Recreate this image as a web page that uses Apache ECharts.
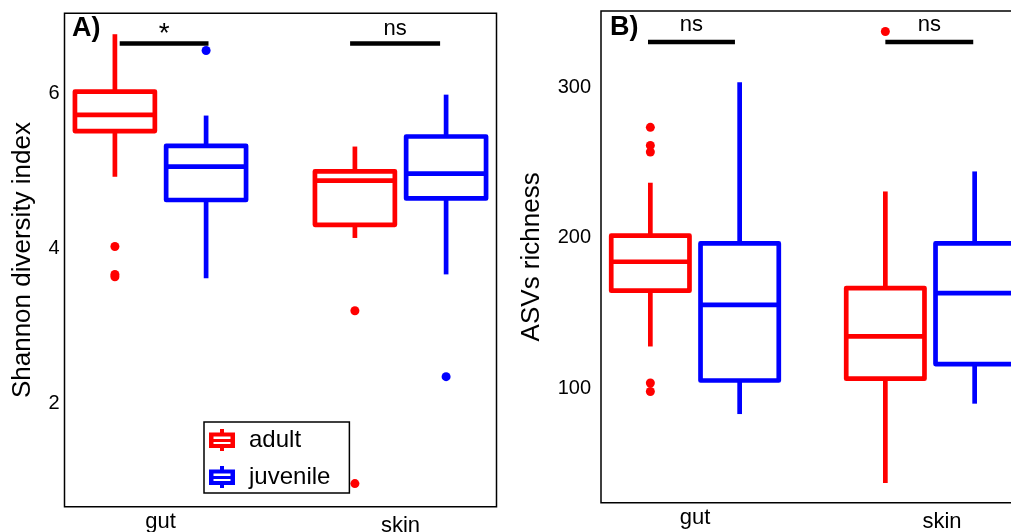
<!DOCTYPE html>
<html><head><meta charset="utf-8">
<script src="https://cdn.jsdelivr.net/npm/echarts@6/dist/echarts.min.js"></script>
<style>html,body{margin:0;padding:0;background:#fff}#c{width:1011px;height:532px}</style>
</head><body><div id="c"></div>
<script>
// ---------- data ----------
const categories = ['gut', 'skin'];
const groups = ['adult', 'juvenile'];
// box statistics: [categoryIndex, lowerWhisker, Q1, median, Q3, upperWhisker]
const shannonAdult = [[0, 4.92, 5.51, 5.72, 6.02, 6.76], [1, 4.13, 4.30, 4.87, 4.99, 5.31]];
const shannonJuvenile = [[0, 3.61, 4.62, 5.05, 5.32, 5.71], [1, 3.66, 4.64, 4.96, 5.44, 5.98]];
const shannonAdultOutliers = [[0, 4.02], [0, 3.66], [0, 3.63], [1, 3.19], [1, 0.96]];
const shannonJuvenileOutliers = [[0, 6.55], [1, 2.34]];
const richnessAdult = [[0, 127.6, 164.7, 183.9, 201.2, 236.4], [1, 36.9, 106.2, 134.3, 166.4, 230.6]];
const richnessJuvenile = [[0, 82.7, 105.0, 155.3, 196.1, 303.1], [1, 89.6, 115.9, 163.1, 196.1, 243.9]];
const richnessAdultOutliers = [[0, 273.2], [0, 261.2], [0, 256.8], [0, 103.3], [0, 97.7], [1, 336.9]];
const richnessJuvenileOutliers = [];
const shannonTicks = [2, 4, 6];
const richnessTicks = [100, 200, 300];
const shannonRange = [0.66, 7.03];
const richnessRange = [23.8, 350.5];
// significance brackets: [categoryIndex, startOffset, endOffset, y, label]
const shannonSig = [[0, -0.17, 0.2, 6.64, '*'], [1, -0.21, 0.165, 6.64, 'ns']];
const richnessSig = [[0, -0.2, 0.17, 329.9, 'ns'], [1, -0.19, 0.184, 329.9, 'ns']];

// ---------- styling ----------
const RED = '#FF0000', BLUE = '#0000FF';
const FONT = 'Liberation Sans, Arial, Helvetica, sans-serif';
const DODGE = 0.19, BOX_W = 0.333, LW = 4.7;

function boxRenderer(offset, color) {
  return function (params, api) {
    const x = api.value(0) + offset;
    const pLow = api.coord([x, api.value(1)]);
    const pQ1 = api.coord([x, api.value(2)]);
    const pMed = api.coord([x, api.value(3)]);
    const pQ3 = api.coord([x, api.value(4)]);
    const pHigh = api.coord([x, api.value(5)]);
    const hw = api.size([BOX_W, 0])[0] / 2;
    const st = { stroke: color, lineWidth: LW, fill: null, lineJoin: 'round' };
    return {
      type: 'group',
      children: [
        { type: 'line', shape: { x1: pHigh[0], y1: pHigh[1], x2: pQ3[0], y2: pQ3[1] }, style: st },
        { type: 'line', shape: { x1: pQ1[0], y1: pQ1[1], x2: pLow[0], y2: pLow[1] }, style: st },
        { type: 'rect', shape: { x: pQ3[0] - hw, y: pQ3[1], width: 2 * hw, height: pQ1[1] - pQ3[1] },
          style: Object.assign({}, st, { fill: '#fff' }) },
        { type: 'line', shape: { x1: pMed[0] - hw, y1: pMed[1], x2: pMed[0] + hw, y2: pMed[1] }, style: st }
      ]
    };
  };
}
function sigRenderer(labels, textDy, fontSizes) {
  return function (params, api) {
    const c = api.value(0);
    const a = api.coord([c + api.value(1), api.value(3)]);
    const b = api.coord([c + api.value(2), api.value(3)]);
    const i = params.dataIndex;
    return {
      type: 'group',
      children: [
        { type: 'line', shape: { x1: a[0], y1: a[1], x2: b[0], y2: b[1] },
          style: { stroke: '#000', lineWidth: 4.5 } },
        { type: 'text', x: (a[0] + b[0]) / 2, y: a[1] - textDy[i],
          style: { text: labels[i], fill: '#000', font: fontSizes[i] + 'px ' + FONT, align: 'center', verticalAlign: 'middle' } }
      ]
    };
  };
}
function shift(points, off) { return points.map(p => [p[0] + off, p[1]]); }

function xAxisFor(gridIndex, rich, margin) {
  return {
    gridIndex, type: 'value', min: -0.4, max: 1.4, interval: 0.2,
    axisLine: { show: false }, axisTick: { show: false }, splitLine: { show: false },
    axisLabel: {
      margin, color: '#000', fontSize: 22, fontFamily: FONT, rich,
      formatter: v => {
        const i = Math.round(v);
        if (Math.abs(v - i) > 1e-6 || !categories[i]) return '';
        return '{c' + i + '|' + categories[i] + '}';
      }
    }
  };
}
function yAxisFor(gridIndex, range, ticks, name, nameGap, margin) {
  return {
    gridIndex, type: 'value', min: range[0], max: range[1],
    name, nameLocation: 'middle', nameRotate: 90, nameGap,
    nameTextStyle: { fontSize: 26, fontFamily: FONT, color: '#000' },
    axisLine: { show: false }, axisTick: { show: false }, splitLine: { show: false },
    axisLabel: { customValues: ticks, margin, color: '#000', fontSize: 20, fontFamily: FONT }
  };
}

const legendIcon = 'path://M11 0H15V3.5H26V19H15V22H11V19H0V3.5H11Z' +
  'M4.5 7.5V10H21.5V7.5Z' + 'M4.5 13V15H21.5V13Z';

const chart = echarts.init(document.getElementById('c'), null, { renderer: 'canvas' });
chart.setOption({
  animation: false,
  backgroundColor: '#fff',
  title: [
    { text: 'A)', left: 72, top: 15, padding: 0, textStyle: { fontSize: 27, fontWeight: 'bold', fontFamily: FONT, color: '#000' } },
    { text: 'B)', left: 610, top: 14, padding: 0, textStyle: { fontSize: 27, fontWeight: 'bold', fontFamily: FONT, color: '#000' } }
  ],
  grid: [
    { left: 64.5, top: 13.3, width: 432, height: 493.5, show: true, borderColor: '#000', borderWidth: 1.5,
      backgroundColor: 'transparent', containLabel: false, outerBoundsMode: 'none' },
    { left: 601, top: 11, width: 423, height: 491.7, show: true, borderColor: '#000', borderWidth: 1.5,
      backgroundColor: 'transparent', containLabel: false, outerBoundsMode: 'none' }
  ],
  xAxis: [
    xAxisFor(0, { c0: { fontSize: 22, fontFamily: FONT, color: '#000' }, c1: { fontSize: 22, fontFamily: FONT, color: '#000', padding: [4, 0, 0, 0] } }, 4),
    xAxisFor(1, { c0: { fontSize: 22, fontFamily: FONT, color: '#000' }, c1: { fontSize: 22, fontFamily: FONT, color: '#000', padding: [4, 0, 0, 24] } }, 4)
  ],
  yAxis: [
    yAxisFor(0, shannonRange, shannonTicks, 'Shannon diversity index', 29, 5),
    yAxisFor(1, richnessRange, richnessTicks, 'ASVs richness', 56, 10)
  ],
  legend: {
    data: [{ name: groups[0], icon: legendIcon }, { name: groups[1], icon: legendIcon }],
    orient: 'vertical', left: 204, top: 422,
    itemWidth: 26, itemHeight: 22, itemGap: 13,
    padding: [6, 19, 4, 5],
    borderColor: '#000', borderWidth: 1.5, backgroundColor: '#fff',
    itemStyle: { borderWidth: 0 },
    textStyle: { fontSize: 24, fontFamily: FONT, color: '#000', padding: [0, 0, 0, 9] }
  },
  series: [
    { name: groups[0], type: 'custom', xAxisIndex: 0, yAxisIndex: 0, itemStyle: { color: RED },
      renderItem: boxRenderer(-DODGE, RED), encode: { x: 0, y: [1, 2, 3, 4, 5] }, data: shannonAdult },
    { name: groups[1], type: 'custom', xAxisIndex: 0, yAxisIndex: 0, itemStyle: { color: BLUE },
      renderItem: boxRenderer(DODGE, BLUE), encode: { x: 0, y: [1, 2, 3, 4, 5] }, data: shannonJuvenile },
    { name: 'adult outliers A', type: 'scatter', xAxisIndex: 0, yAxisIndex: 0, symbolSize: 9,
      itemStyle: { color: RED, opacity: 1 }, data: shift(shannonAdultOutliers, -DODGE) },
    { name: 'juvenile outliers A', type: 'scatter', xAxisIndex: 0, yAxisIndex: 0, symbolSize: 9,
      itemStyle: { color: BLUE, opacity: 1 }, data: shift(shannonJuvenileOutliers, DODGE) },
    { name: 'sig A', type: 'custom', xAxisIndex: 0, yAxisIndex: 0,
      renderItem: sigRenderer(shannonSig.map(s => s[4]), [9.5, 15], [28, 22]),
      encode: { x: 0, y: 3 }, data: shannonSig.map(s => s.slice(0, 4)) },

    { name: groups[0], type: 'custom', xAxisIndex: 1, yAxisIndex: 1, itemStyle: { color: RED },
      renderItem: boxRenderer(-DODGE, RED), encode: { x: 0, y: [1, 2, 3, 4, 5] }, data: richnessAdult },
    { name: groups[1], type: 'custom', xAxisIndex: 1, yAxisIndex: 1, itemStyle: { color: BLUE },
      renderItem: boxRenderer(DODGE, BLUE), encode: { x: 0, y: [1, 2, 3, 4, 5] }, data: richnessJuvenile },
    { name: 'adult outliers B', type: 'scatter', xAxisIndex: 1, yAxisIndex: 1, symbolSize: 9,
      itemStyle: { color: RED, opacity: 1 }, data: shift(richnessAdultOutliers, -DODGE) },
    { name: 'juvenile outliers B', type: 'scatter', xAxisIndex: 1, yAxisIndex: 1, symbolSize: 9,
      itemStyle: { color: BLUE, opacity: 1 }, data: shift(richnessJuvenileOutliers, DODGE) },
    { name: 'sig B', type: 'custom', xAxisIndex: 1, yAxisIndex: 1,
      renderItem: sigRenderer(richnessSig.map(s => s[4]), [17, 17], [22, 22]),
      encode: { x: 0, y: 3 }, data: richnessSig.map(s => s.slice(0, 4)) }
  ]
});
</script></body></html>
